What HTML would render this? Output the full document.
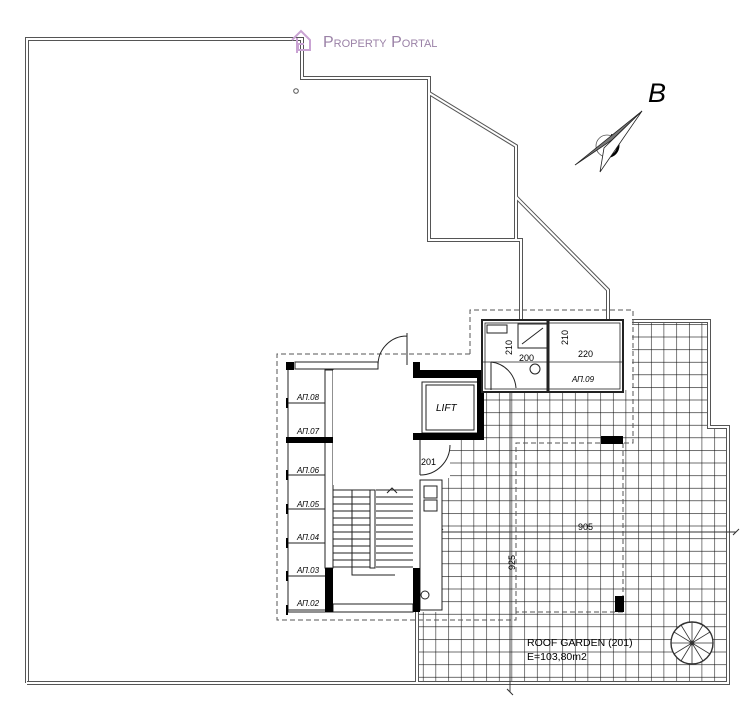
<!DOCTYPE html>
<html><head><meta charset="utf-8"><style>
html,body{margin:0;padding:0;background:#fff;}
svg{display:block;}
text{font-family:"Liberation Sans",sans-serif;}
</style></head><body>
<svg width="747" height="716" viewBox="0 0 747 716" xmlns="http://www.w3.org/2000/svg">
<defs>
<pattern id="g" patternUnits="userSpaceOnUse" x="4.8" y="9.1" width="12.67" height="12.6">
<path d="M0 0V12.6M0 0H12.67" stroke="#111" stroke-width="1.1" fill="none"/>
</pattern>
<clipPath id="gc"><path d="M632 321H709V427H728V683H417V612H442V478H450V440H484V390H632Z"/></clipPath>
</defs>
<rect x="400" y="300" width="340" height="400" fill="url(#g)" clip-path="url(#gc)"/>
<g fill="none" stroke-linejoin="miter">
<path d="M27 683V39H302V78H429V240H521V321 M429 93L516 146V240 M516 197L608 290V321" stroke="#555" stroke-width="4"/>
<path d="M27 683V39H302V78H429V240H521V321 M429 93L516 146V240 M516 197L608 290V321" stroke="#fff" stroke-width="2"/>
<path d="M27 683H728V427H709V321H632 M417 683V612" stroke="#555" stroke-width="4"/>
<path d="M27 683H728V427H709V321H632 M417 683V612" stroke="#fff" stroke-width="2"/>
</g>
<circle cx="296" cy="91" r="2.3" fill="none" stroke="#555" stroke-width="1"/>
<path d="M292 40L301 31L310 40V50H298V44H304" fill="none" stroke="#c9a3d3" stroke-width="2"/>
<path d="M297 38V53" stroke="#c9a3d3" stroke-width="2"/>
<text x="323" y="47" font-family="Liberation Serif,serif" font-size="16" fill="#9b82a7" style="font-variant:small-caps">Property Portal</text>
<circle cx="607" cy="146" r="11" fill="none" stroke="#555" stroke-width="0.8"/>
<path d="M611 135A11 11 0 0 1 603 156" fill="none" stroke="#000" stroke-width="2.5"/>
<path d="M642 111L575 165L612 140Z" fill="#777" stroke="#222" stroke-width="0.8"/>
<path d="M642 111L600 172L604 148Z" fill="#fff" stroke="#222" stroke-width="0.8"/>
<text x="648" y="102" font-size="27" font-style="italic">B</text>
<g fill="none" stroke="#555" stroke-width="1" stroke-dasharray="5,3">
<path d="M470 354H277V620H516V612H623"/>
<path d="M470 354V310H633V443H623"/>
<path d="M516 612V443H601 M623 443V596"/>
</g>
<path d="M440 532H736 M510 392V692" stroke="#333" stroke-width="0.9"/>
<path d="M437 535L443 529M733 535L739 529M507 689L513 695" stroke="#333"/>
<text x="578" y="530" font-size="9">905</text>
<text transform="translate(515,570) rotate(-90)" font-size="9">925</text>
<rect x="601" y="436" width="22" height="8" fill="#000"/>
<rect x="615" y="596" width="9" height="16" fill="#000"/>
<g stroke="#222" stroke-width="1" fill="none">
<rect x="287" y="362" width="126" height="250" fill="#fff" stroke="none"/>
<path d="M288 362V612H413"/>
<rect x="295" y="362" width="83" height="7" fill="#fff"/>
<path d="M288 403H325M288 475H325M288 509H325M288 543H325M288 576H325M288 610H325"/>
<rect x="325" y="370" width="8" height="198" fill="#fff"/>
<rect x="333" y="370" width="80" height="115" fill="#fff" stroke="none"/>
<path d="M333 490H370M333 497H370M333 504H370M333 511H370M333 518H370M333 525H370M333 532H370M333 539H370M333 546H370M333 553H370M333 560H370M333 567H370"/>
<path d="M376 490H413M376 497H413M376 504H413M376 511H413M376 518H413M376 525H413M376 532H413M376 539H413M376 546H413M376 553H413M376 560H413M376 567H413"/>
<rect x="370" y="490" width="5" height="78" fill="#fff"/>
<path d="M352 490V575H395"/>
<path d="M387 493L392 488L397 493"/>
<rect x="333" y="604" width="80" height="8" fill="#fff"/>
<path d="M407 333V365M378 365A29 29 0 0 1 407 336"/>
<path d="M420 440V475M420 475A30 30 0 0 0 450 445"/>
<rect x="420" y="480" width="22" height="130" fill="#fff"/>
<rect x="424" y="486" width="13" height="12"/>
<rect x="424" y="500" width="13" height="11"/>
<circle cx="425" cy="595" r="4"/>
<rect x="422" y="382" width="56" height="51" fill="#fff"/>
<rect x="426" y="385" width="48" height="45"/>
</g>
<g fill="#000">
<rect x="286" y="362" width="8" height="8"/>
<rect x="286" y="437" width="47" height="6"/>
<rect x="325" y="568" width="8" height="44"/>
<rect x="413" y="568" width="7" height="44"/>
<rect x="413" y="362" width="7" height="14"/>
<rect x="413" y="370" width="71" height="8"/>
<rect x="477" y="370" width="7" height="70"/>
<rect x="413" y="433" width="71" height="7"/>
<rect x="286" y="398" width="2" height="10"/><rect x="286" y="470" width="2" height="10"/><rect x="286" y="504" width="2" height="10"/><rect x="286" y="538" width="2" height="10"/><rect x="286" y="571" width="2" height="10"/><rect x="286" y="605" width="2" height="10"/>
</g>
<g font-size="8" font-style="italic">
<text x="297" y="400">АП.08</text><text x="297" y="434">АП.07</text><text x="297" y="473">АП.06</text>
<text x="297" y="507">АП.05</text><text x="297" y="540">АП.04</text><text x="297" y="573">АП.03</text><text x="297" y="606">АП.02</text>
</g>
<text x="436" y="411" font-size="10" font-style="italic">LIFT</text>
<text x="421" y="465" font-size="9">201</text>
<g stroke="#222" stroke-width="1" fill="#fff">
<rect x="482" y="320" width="141" height="72" stroke-width="2"/>
<rect x="485" y="323" width="135" height="66" stroke-width="0.8"/>
<path d="M548 320V392" stroke-width="3"/>
<rect x="487" y="325" width="20" height="8"/>
<rect x="518" y="324" width="29" height="24"/>
<path d="M522 344L543 328" fill="none"/>
<circle cx="535" cy="369" r="5"/>
<path d="M491 362V390M491 362A28 28 0 0 1 516 388" fill="none"/>
<path d="M482 362H623" stroke-width="0.8" fill="none"/>
</g>
<g font-size="9">
<text transform="translate(512,355) rotate(-90)">210</text>
<text x="519" y="361">200</text>
<text transform="translate(568,345) rotate(-90)">210</text>
<text x="578" y="357">220</text>
<text x="572" y="382" font-style="italic" font-size="8">АП.09</text>
</g>
<g stroke="#333" stroke-width="0.8" fill="none">
<circle cx="692" cy="643" r="21" fill="#fff" stroke-width="1.4"/>
<path d="M692 643L713 643M692 643L710 632M692 643L703 625M692 643L692 622M692 643L681 625M692 643L674 632M692 643L671 643M692 643L674 654M692 643L681 661M692 643L692 664M692 643L703 661M692 643L710 654"/>
<circle cx="692" cy="643" r="2"/>
</g>
<text x="527" y="646" font-size="10.5">ROOF GARDEN (201)</text>
<text x="527" y="660" font-size="10.5">E=103,80m2</text>
</svg>
</body></html>
